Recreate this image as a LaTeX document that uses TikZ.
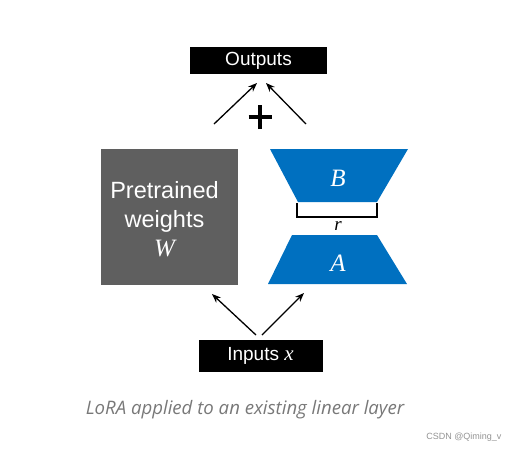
\documentclass[tikz,border=0pt]{standalone}
\usepackage{fontspec}
\setmainfont{Liberation Serif}
\setsansfont{Liberation Sans}
\newfontfamily\capfont{Open Sans}
\usetikzlibrary{arrows.meta}
\definecolor{lorablue}{RGB}{0,112,192}
\definecolor{wgray}{RGB}{95,95,95}
\definecolor{capgray}{RGB}{120,120,120}
\begin{document}
\begin{tikzpicture}[x=1pt,y=-1pt,
  blackbox/.style={fill=black,text=white,inner sep=0pt,font=\sffamily\fontsize{19}{20}\selectfont},
  arr/.style={-{Stealth[length=9pt,width=7pt]},line width=1.3pt},
  trap/.style={fill=lorablue,draw=none}]
\useasboundingbox (0,0) rectangle (507,448);
% Outputs
\node[blackbox,minimum width=137pt,minimum height=27pt] (out) at (258.5,60.5) {Outputs};
% gray box
\node[fill=wgray,minimum width=137pt,minimum height=136pt,inner sep=0pt] (W) at (169.5,217) {};
\node[text=white,align=center,inner sep=0pt,font=\sffamily\fontsize{23.5}{29}\selectfont] (Wt) at (164.5,219) {Pretrained\\weights\\{\rmfamily\itshape\fontsize{25}{29}\selectfont W}};
% trapezoids
\fill[trap] (270,149) -- (408,149) -- (377,202) -- (298,202) -- cycle;
\node[text=white,font=\rmfamily\itshape\fontsize{25}{26}\selectfont] (B) at (338,178) {B};
\fill[trap] (292,235) -- (377,235) -- (407,284) -- (268,284) -- cycle;
\node[text=white,font=\rmfamily\itshape\fontsize{25}{26}\selectfont] (A) at (338,263) {A};
% bracket
\draw[line width=1.4pt] (297,203) -- (297,217) -- (377,217) -- (377,203);
\node[font=\rmfamily\itshape\fontsize{19}{20}\selectfont] (r) at (338,226) {r};
% plus
\coordinate (plus) at (260,117);
\draw[line width=3.3pt] ([xshift=-11.5pt]plus) -- ([xshift=11.5pt]plus) ([yshift=-12pt]plus) -- ([yshift=12pt]plus);
% Inputs
\node[blackbox,minimum width=124pt,minimum height=32pt] (in) at (260.5,356) {Inputs {\rmfamily\itshape\fontsize{21}{20}\selectfont x}};
% arrows
\coordinate (o1) at (214,124);
\coordinate (o2) at (306,124);
\draw[arr] (o1) -- (257,83);
\draw[arr] (o2) -- (266,83);
\coordinate (i1) at (256,335);
\coordinate (i2) at (262,335);
\draw[arr] (i1) -- (212,294);
\draw[arr] (i2) -- (304,293);
% caption
\node[text=capgray,font=\capfont\itshape\fontsize{18.6}{20}\selectfont] (cap) at (245,410) {LoRA applied to an existing linear layer};
\node[text=capgray!80,font=\sffamily\fontsize{9}{10}\selectfont,anchor=east] (wm) at (505,437) {CSDN @Qiming\_v};
\end{tikzpicture}
\end{document}
